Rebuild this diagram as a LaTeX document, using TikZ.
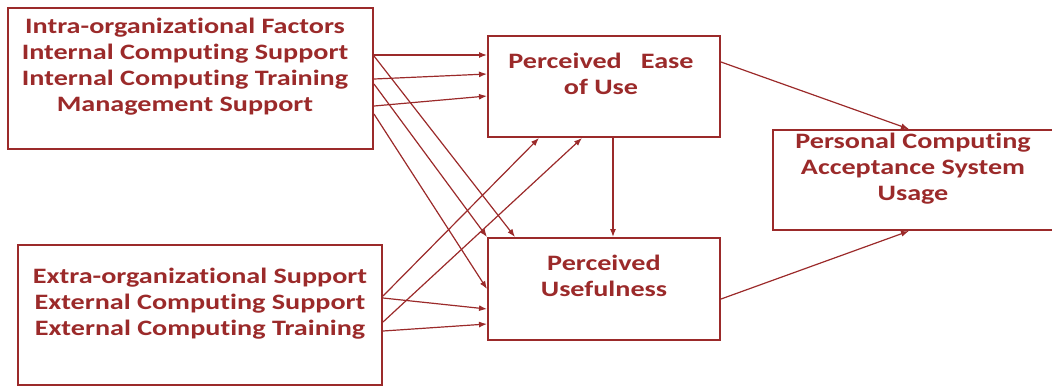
\documentclass[tikz,border=0pt]{standalone}
\usepackage{fontspec}
\setmainfont{Carlito}[FakeStretch=1.28, Ligatures={NoCommon}]
\usetikzlibrary{arrows.meta}
\definecolor{boxred}{RGB}{155,42,42}

\tikzset{
  factor/.style={draw=boxred, line width=1pt, rectangle, inner sep=0pt},
  factortext/.style={text=boxred, font=\bfseries\fontsize{11}{13}\selectfont, align=center},
  link/.style={draw=boxred, line width=0.6pt, -{Latex[length=4pt,width=3pt]}}
}

\begin{document}
\begin{tikzpicture}[x=0.5pt, y=-0.5pt]
\useasboundingbox (0,0) rectangle (1052,387);
% boxes
\node (intra) [factor, minimum width=182.5pt, minimum height=70.5pt] at (190.5,78.5) {};
\node (extra) [factor, minimum width=182pt, minimum height=70pt] at (200,315) {};
\node (peou) [factor, minimum width=116pt, minimum height=50.5pt] at (604,86.5) {};
\node (pu) [factor, minimum width=116pt, minimum height=51pt] at (604,289) {};
\node (pca) [factor, minimum width=143.5pt, minimum height=50pt] at (916.5,180) {};
% texts
\node (intra-t) [factortext] at ([xshift=-2.75pt, yshift=5.75pt]intra.center)
  {Intra-organizational Factors\\Internal Computing Support\\Internal Computing Training\\Management Support};
\node (extra-t) [factortext] at ([yshift=5.75pt]extra.center)
  {Extra-organizational Support\\External Computing Support\\External Computing Training};
\node (peou-t) [factortext] at ([xshift=-1.5pt, yshift=6.25pt]peou.center)
  {Perceived\ \ \ Ease\\of Use};
\node (pu-t) [factortext] at ([yshift=6.5pt]pu.center)
  {Perceived\\Usefulness};
\node (pca-t) [factortext] at ([xshift=-1.75pt, yshift=5.75pt]pca.center)
  {Personal Computing\\Acceptance System\\Usage};
% intra-organizational links
\draw[link] ([yshift=-24pt]intra.north east) -- ([yshift=-10pt]peou.north west);
\draw[link] ([yshift=-36pt]intra.north east) -- ([yshift=-19.5pt]peou.north west);
\draw[link] ([yshift=-49.5pt]intra.north east) -- ([yshift=-30.5pt]peou.north west);
\draw[link] ([yshift=-24.5pt]intra.north east) -- ([xshift=14pt]pu.north west);
\draw[link] ([yshift=-38.5pt]intra.north east) -- (pu.north west);
\draw[link] ([yshift=-53.5pt]intra.north east) -- ([yshift=-26pt]pu.north west);
% extra-organizational links
\draw[link] ([yshift=-26pt]extra.north east) -- ([xshift=26pt]peou.south west);
\draw[link] ([yshift=-39pt]extra.north east) -- ([xshift=47.5pt]peou.south west);
\draw[link] ([yshift=-27pt]extra.north east) -- ([yshift=-36pt]pu.north west);
\draw[link] ([yshift=-43.5pt]extra.north east) -- ([yshift=-43.5pt]pu.north west);
% mediators
\draw[link] ([xshift=4.5pt]peou.south) -- ([xshift=4.5pt]pu.north);
\draw[link] ([yshift=-13.5pt]peou.north east) -- ([xshift=68.5pt]pca.north west);
\draw[link] ([yshift=-31pt]pu.north east) -- ([xshift=68.5pt]pca.south west);
\end{tikzpicture}
\end{document}
